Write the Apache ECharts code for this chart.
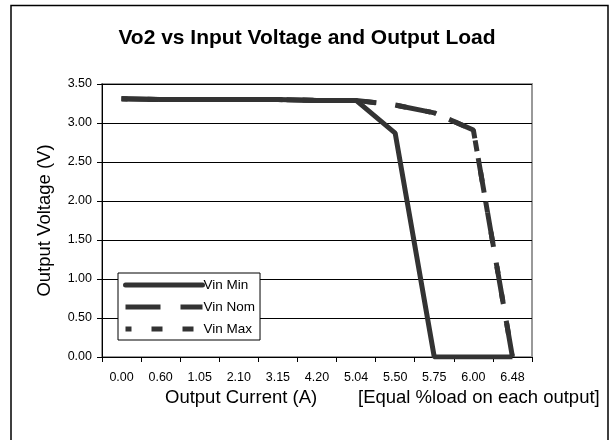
<!DOCTYPE html>
<html>
<head>
<meta charset="utf-8">
<script src="https://cdn.jsdelivr.net/npm/echarts@6/dist/echarts.min.js"></script>
<style>
  html, body { margin: 0; padding: 0; background: #fff; }
  #main { width: 614px; height: 440px; }
</style>
</head>
<body>
<div id="main"></div>
<script>
// x categories (output current, A)
var currents = ['0.00', '0.60', '1.05', '2.10', '3.15', '4.20', '5.04', '5.50', '5.75', '6.00', '6.48'];
// output voltage for each input voltage case
var vinMin = [3.31, 3.30, 3.30, 3.30, 3.30, 3.29, 3.29, 2.87, 0.00, 0.00, 0.00];
var vinNom = [3.31, 3.30, 3.30, 3.30, 3.30, 3.29, 3.29, 3.23, 3.13, 2.91, 0.00];
var vinMax = [3.31, 3.30, 3.30, 3.30, 3.30, 3.29, 3.29, 3.23, 3.13, 2.91, 0.00];

var lineColor = '#333333';
var font = 'Liberation Sans, Arial, sans-serif';
var chart = echarts.init(document.getElementById('main'));

chart.setOption({
  backgroundColor: '#ffffff',
  animation: false,
  textStyle: { fontFamily: font, color: '#000' },
  title: {
    text: 'Vo2 vs Input Voltage and Output Load',
    left: 'center',
    top: 23,
    textStyle: { fontSize: 21, fontWeight: 'bold', color: '#000', fontFamily: font }
  },
  grid: { left: 102, top: 84, right: 82, bottom: 83, show: true, borderColor: '#999', borderWidth: 2 },
  legend: {
    orient: 'vertical',
    left: 118,
    top: 273,
    padding: [5, 5, 4, 5],
    backgroundColor: '#fff',
    borderColor: '#000',
    borderWidth: 1,
    borderRadius: 0,
    itemWidth: 77,
    itemHeight: 14,
    itemGap: 8,
    itemStyle: { opacity: 0 },
    textStyle: { fontSize: 13.5, color: '#000', padding: [0, 0, 0, -4] },
    data: [
      { name: 'Vin Min', lineStyle: { width: 5, type: 'solid', cap: 'round' } },
      { name: 'Vin Nom', lineStyle: { width: 5, type: [35, 20] } },
      { name: 'Vin Max', lineStyle: { width: 5, type: [11, 20] } }
    ]
  },
  xAxis: {
    type: 'category',
    data: currents,
    boundaryGap: true,
    axisLine: { lineStyle: { color: '#000', width: 1 } },
    axisTick: { show: true, length: 5, lineStyle: { color: '#000' } },
    axisLabel: { fontSize: 12.5, color: '#000', margin: 14 },
    splitLine: { show: false }
  },
  yAxis: {
    type: 'value',
    min: 0,
    max: 3.5,
    interval: 0.5,
    axisLine: { show: true, lineStyle: { color: '#000', width: 1 } },
    axisTick: { show: true, length: 5, lineStyle: { color: '#000' } },
    axisLabel: { fontSize: 12.5, color: '#000', margin: 10, formatter: function (v) { return v.toFixed(2); } },
    splitLine: { show: true, lineStyle: { color: '#000', width: 1 } },
    name: 'Output Voltage (V)',
    nameLocation: 'middle',
    nameGap: 48,
    nameTextStyle: { fontSize: 18.5, color: '#000' }
  },
  graphic: [
    {
      type: 'polyline',
      shape: { points: [[11, 440], [11, 5.5], [608, 5.5], [608, 440]] },
      style: { stroke: '#000', lineWidth: 1.5, fill: null }
    },
    {
      type: 'text',
      left: 165,
      top: 388,
      style: { text: 'Output Current (A)', fontSize: 18.5, fill: '#000', fontFamily: font }
    },
    {
      type: 'text',
      left: 358,
      top: 388,
      style: { text: '[Equal %load on each output]', fontSize: 18.5, fill: '#000', fontFamily: font }
    }
  ],
  series: [
    {
      name: 'Vin Min',
      type: 'line',
      data: vinMin,
      symbol: 'none',
      itemStyle: { color: lineColor },
      lineStyle: { color: lineColor, width: 5, type: 'solid' },
      z: 3
    },
    {
      name: 'Vin Nom',
      type: 'line',
      data: vinNom,
      symbol: 'none',
      itemStyle: { color: lineColor },
      lineStyle: { color: lineColor, width: 5, type: [35, 20] },
      z: 2
    },
    {
      name: 'Vin Max',
      type: 'line',
      data: vinMax,
      symbol: 'none',
      itemStyle: { color: lineColor },
      lineStyle: { color: lineColor, width: 5, type: [11, 20], dashOffset: 5 },
      z: 2
    }
  ]
});
</script>
</body>
</html>
